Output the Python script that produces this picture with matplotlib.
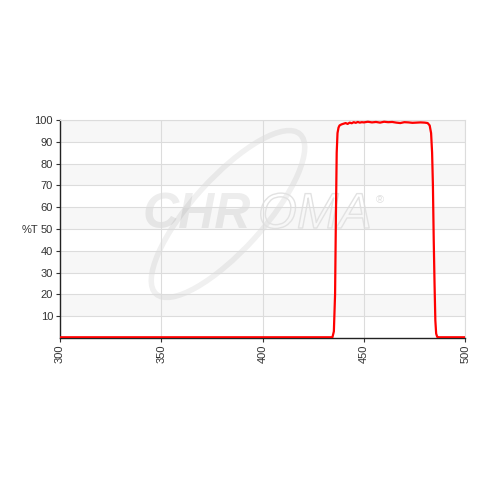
import matplotlib
matplotlib.use("Agg")
import matplotlib.pyplot as plt
from matplotlib.patches import Ellipse
import matplotlib.patheffects as pe

wavelength = [300, 350, 400, 430, 434.5, 435.2, 435.8, 436.2, 436.6, 437.0, 437.5, 438.0, 439.0,
              440.0, 441.0, 442.0, 443.0, 444.0, 445.0, 446.0, 447.0, 448.0, 449.0, 450.0,
              452.0, 454.0, 456.0, 458.0, 460.0, 462.0, 464.0, 466.0, 468.0, 470.0, 472.0,
              474.0, 476.0, 478.0, 480.0, 481.5, 482.5, 483.2, 483.7, 484.1, 484.5, 484.9,
              485.3, 485.7, 486.2, 487.0, 490.0, 500.0]
transmission = [0.3, 0.3, 0.3, 0.3, 0.3, 3.0, 20.0, 55.0, 85.0, 94.0, 96.5, 97.5, 98.0,
                98.3, 98.6, 98.2, 98.8, 98.5, 99.0, 98.7, 99.1, 98.8, 99.0, 98.9,
                99.2, 98.9, 99.1, 98.8, 99.2, 99.0, 99.1, 98.8, 98.6, 99.0, 98.9,
                98.7, 98.8, 98.9, 98.8, 98.6, 97.5, 94.0, 85.0, 70.0, 45.0, 25.0,
                8.0, 2.0, 0.5, 0.3, 0.3, 0.3]
x_ticks = [300, 350, 400, 450, 500]
y_ticks = [10, 20, 30, 40, 50, 60, 70, 80, 90, 100]

plt.rcParams['font.family'] = ['Liberation Sans', 'DejaVu Sans']

fig = plt.figure(figsize=(4.8, 4.8), dpi=100)
ax = fig.add_axes([0.125, 0.296, 0.844, 0.454])

# alternating bands
for i in range(0, 100, 10):
    if (i // 10) % 2 == 1:
        ax.axhspan(i, i + 10, color='#f7f7f7', zorder=0, lw=0)

# watermark (figure coordinates), drawn under grid
ax.add_patch(Ellipse((2.28, 2.66), 2.15, 0.72, angle=48, fill=False, ec='#000000', alpha=0.06,
                     lw=4, transform=fig.dpi_scale_trans, zorder=1, clip_on=False))
ax.text(143 / 480, 1 - 215 / 480, 'CHR', fontsize=36, fontweight='bold', fontstyle='italic',
        color='#000000', alpha=0.07, ha='left', va='center', zorder=1, transform=fig.transFigure)
ax.text(258 / 480, 1 - 215 / 480, 'OMA', fontsize=36, fontstyle='italic',
        color='none', ha='left', va='center', zorder=1, transform=fig.transFigure,
        path_effects=[pe.withStroke(linewidth=1.0, foreground='#e2e2e2')])
ax.text(380 / 480, 1 - 200 / 480, '®', fontsize=8, color='#e0e0e0', ha='center', va='center',
        zorder=1, transform=fig.transFigure)

ax.plot(wavelength, transmission, color='#ff0000', lw=1.6, zorder=3)

ax.set_xlim(300, 500)
ax.set_ylim(0, 100)
ax.set_xticks(x_ticks)
ax.set_xticklabels([str(v) for v in x_ticks], rotation=90, fontsize=8, color='#333333')
ax.set_yticks(y_ticks)
ax.set_yticklabels([str(v) for v in y_ticks], fontsize=8, color='#333333')
ax.grid(True, color='#dcdcdc', lw=0.8, zorder=2)
ax.tick_params(length=3, width=0.8, color='#333333', pad=2)

for s in ['top', 'right']:
    ax.spines[s].set_visible(True)
    ax.spines[s].set_color('#dcdcdc')
for s in ['left', 'bottom']:
    ax.spines[s].set_color('#222222')
    ax.spines[s].set_linewidth(1.0)

fig.text(22 / 480, 1 - 230 / 480, '%T', fontsize=8, color='#333333', ha='left', va='center')

fig.savefig('out.png', dpi=100, facecolor='white')
